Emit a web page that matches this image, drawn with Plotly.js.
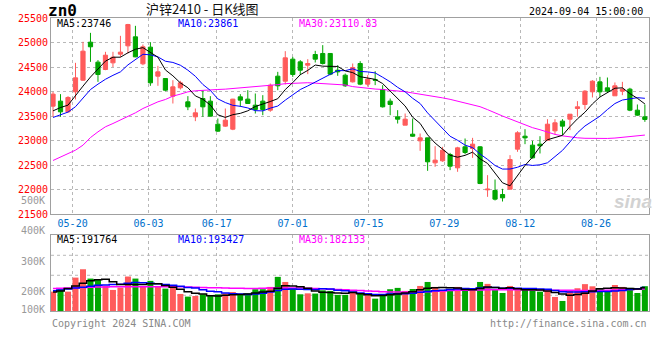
<!DOCTYPE html>
<html><head><meta charset="utf-8">
<script src="https://cdn.plot.ly/plotly-3.0.1.min.js"></script>
<style>body{margin:0;background:#fff}#chart{width:660px;height:360px}</style>
</head><body><div id="chart"></div><script>
// ---- data (沪锌2410, daily) ----
const dates = ['05-15','05-16','05-17','05-20','05-21','05-22','05-23','05-24','05-27','05-28','05-29','05-30','05-31',
'06-03','06-04','06-05','06-06','06-07','06-11','06-12','06-13','06-14','06-17','06-18','06-19','06-20','06-21','06-24','06-25','06-26','06-27','06-28',
'07-01','07-02','07-03','07-04','07-05','07-08','07-09','07-10','07-11','07-12','07-15','07-16','07-17','07-18','07-19','07-22','07-23','07-24','07-25','07-26','07-29','07-30','07-31',
'08-01','08-02','08-05','08-06','08-07','08-08','08-09','08-12','08-13','08-14','08-15','08-16','08-19','08-20','08-21','08-22','08-23','08-26','08-27','08-28','08-29','08-30',
'09-02','09-03','09-04'];
const tickLabels = ['05-20','06-03','06-17','07-01','07-15','07-29','08-12','08-26'];
const priceTicks = [21500,22000,22500,23000,23500,24000,24500,25000,25500];

const open = [23701,23803,23585,23993,24231,25007,24599,24449,24585,24762,
24932,25116,24565,24905,24313,24265,23905,24075,23789,23483,
23857,23803,23333,23293,23231,23891,23844,23721,23803,23619,
24313,24211,24660,24605,24537,24755,24776,24776,24435,24333,
24197,24571,24150,24245,24041,23803,23483,23313,23129,22993,
23054,22544,22585,22714,22442,22871,22837,22871,21993,21980,
21898,22007,22823,23088,22905,22925,23007,23197,23395,23435,
23653,23735,23993,24197,24075,23912,24007,24048,23619,23483];
const high = [23993,23946,23905,24585,25014,25197,24640,24810,24810,25136,
25380,25340,24959,25007,24524,24270,24231,24218,23905,23653,
24027,23905,23449,23653,23850,23946,24027,23959,23925,24163,
24401,24823,24707,24640,24660,24830,24946,24780,24537,24367,
24571,24619,24333,24415,24129,23857,23619,23551,23449,23143,
23054,22884,22871,22748,22871,23041,23054,22884,22293,22204,
22014,22701,23190,23231,22993,23088,23435,23435,23435,23537,
23803,24027,24231,24299,24285,24184,24197,24075,23735,23735];
const low = [23483,23483,23565,23837,24218,24605,24197,24435,24500,24707,
24776,24700,24537,24116,24116,24007,23755,24041,23619,23395,
23483,23490,23177,23279,23211,23687,23750,23551,23517,23585,
24027,24143,24299,24333,24354,24592,24551,24333,24320,24095,
24184,24129,24100,24130,23673,23517,23347,23313,23075,22789,
22381,22463,22565,22395,22361,22721,22646,22109,21850,21776,
21755,22007,22769,22925,22633,22735,22993,23122,23109,23211,
23483,23633,23878,23891,23973,23912,23925,23599,23503,23381];
const close = [23946,23585,23878,24279,24823,24912,24347,24741,24700,24803,
25367,24707,24912,24177,24401,24027,24095,24177,23687,23565,
23687,23497,23191,23415,23844,23823,23755,23633,23633,24129,
24116,24687,24347,24435,24571,24660,24571,24354,24401,24116,
24490,24150,24252,24230,23687,23735,23435,23435,23088,23054,
22565,22599,22803,22476,22850,22755,22925,22122,22007,21803,
21830,22612,23157,23054,22646,22891,23333,23361,23293,23537,
23687,24007,24211,23993,24007,24116,24048,23619,23517,23429];
const ma5 = [23605,23673,23721,23925,24110,24295,24448,24620,24700,24700,
24790,24862,24895,24790,24700,24440,24320,24175,24077,23910,
23842,23723,23525,23471,23527,23554,23606,23694,23738,23795,
23853,24040,24182,24343,24431,24540,24517,24518,24511,24420,
24386,24302,24282,24248,24162,24011,23868,23704,23476,23349,
23115,22948,22822,22699,22659,22697,22762,22626,22532,22322,
22137,22075,22282,22491,22660,22872,23016,23057,23105,23283,
23442,23577,23747,23887,23981,24067,24075,23957,23861,23746];
const ma10 = [23470,23520,23580,23690,23860,24040,24150,24250,24330,24401,
24543,24656,24759,24749,24707,24618,24593,24536,24435,24311,
24143,24022,23850,23774,23718,23698,23664,23609,23604,23661,
23703,23823,23938,24040,24113,24196,24278,24350,24427,24425,
24463,24409,24400,24379,24291,24198,24085,23993,23862,23755,
23563,23408,23263,23087,23004,22906,22855,22724,22615,22490,
22417,22418,22454,22511,22491,22504,22545,22669,22798,22971,
23157,23296,23402,23496,23632,23754,23826,23852,23874,23861];
const ma30 = [22592,22667,22735,22803,22905,23060,23177,23280,23347,23415,
23483,23565,23653,23721,23789,23837,23905,23946,23993,24014,
24027,24034,24041,24048,24061,24068,24075,24088,24100,24125,
24140,24160,24170,24175,24179,24170,24160,24150,24140,24133,
24100,24080,24065,24050,24041,24030,24015,23995,23970,23947,
23925,23900,23870,23840,23803,23770,23735,23690,23630,23557,
23500,23440,23380,23320,23262,23220,23170,23125,23095,23073,
23055,23045,23040,23040,23042,23050,23062,23078,23092,23110.83];
// volume, in thousands of lots
const vol = [160,180,160,276,345,268,257,207,174,193,
285,268,207,249,207,185,193,141,119,124,
138,130,138,146,157,138,146,180,180,199,
282,240,185,138,146,144,171,166,133,133,
160,144,130,102,124,180,191,166,182,207,
240,199,174,166,199,174,180,240,224,174,
149,207,191,180,180,160,166,116,83,166,
188,222,204,185,170,215,199,191,149,205];
const volMa5 = [157,165,185,207,229,250,258,262,242,220,
219,220,218,226,225,210,197,180,160,147,
140,127,124,130,135,137,141,148,156,164,
188,208,207,201,189,165,155,152,149,146,
152,143,135,126,128,134,140,148,160,175,
188,193,194,192,191,177,176,185,198,195,
189,192,184,176,176,174,166,153,140,131,
137,147,165,184,187,192,191,186,182,191.764];
const volMa10 = [168,174,182,190,197,205,212,214,218,222,
230,236,234,230,225,218,212,204,195,190,
175,163,160,149,143,140,137,141,146,156,
170,180,182,180,178,177,183,182,172,167,
158,149,142,137,136,140,142,142,147,155,
162,168,171,177,182,185,184,190,194,194,
188,188,188,186,185,181,179,170,159,156,
158,159,160,162,162,166,170,177,184,193.427];
const volMa30 = [185,188,191,193,195,197,198,199,200,200,
201,201,201,201,201,201,200,200,199,197,
195,193,192,190,188,187,186,186,187,190,
190,191,191,190,188,186,183,180,178,175,
172,169,166,163,160,158,157,157,157,158,
160,163,166,169,171,172,173,174,175,175,
175,175,175,175,174,174,173,172,171,171,
170,170,170,171,172,174,176,178,180,182.133];
const volLabels = ['500K','400K','300K','200K','100K'];

// ---- styling ----
const RED = '#ff5b5b', GREEN = '#00a600';
const MONO = 'DejaVu Sans Mono';
const FRAME = '#a0a0a0', GRID = '#b8b8b8';
const L = 51, T = 18, PW = 598, PH = 293; // plot box in px
const px = x => (x - L) / PW;           // px -> paper x
const py = y => (T + PH - y) / PH;      // px -> paper y

const idx = dates.map((d, i) => i);
// Sina's grid drifts slightly relative to the bars
const tickPos = tickLabels.map(t => dates.indexOf(t) * 1.0125 - 0.42);
const n = dates.length;

const traces = [
  {type:'candlestick', x: idx, open, high, low, close, xaxis:'x', yaxis:'y',
   increasing:{line:{color:RED, width:1}, fillcolor:RED},
   decreasing:{line:{color:GREEN, width:1}, fillcolor:GREEN},
   whiskerwidth:0, hoverinfo:'skip', showlegend:false},
  {type:'scatter', mode:'lines', x: idx, y: ma30, line:{color:'#ff00ff', width:1}, hoverinfo:'skip', showlegend:false},
  {type:'scatter', mode:'lines', x: idx, y: ma10, line:{color:'#0000ff', width:1}, hoverinfo:'skip', showlegend:false},
  {type:'scatter', mode:'lines', x: idx, y: ma5, line:{color:'#000000', width:1}, hoverinfo:'skip', showlegend:false},
  {type:'bar', x: idx, y: vol, xaxis:'x2', yaxis:'y2',
   marker:{color: idx.map(i => close[i] >= open[i] ? RED : GREEN), line:{width:0}},
   hoverinfo:'skip', showlegend:false},
  {type:'scatter', mode:'lines', x: idx, y: volMa30, xaxis:'x2', yaxis:'y2', line:{color:'#ff00ff', width:1.5, shape:'hvh'}, hoverinfo:'skip', showlegend:false},
  {type:'scatter', mode:'lines', x: idx, y: volMa10, xaxis:'x2', yaxis:'y2', line:{color:'#0000ff', width:1.5, shape:'hvh'}, hoverinfo:'skip', showlegend:false},
  {type:'scatter', mode:'lines', x: idx, y: volMa5, xaxis:'x2', yaxis:'y2', line:{color:'#000000', width:1.5, shape:'hvh'}, hoverinfo:'skip', showlegend:false}
];

const mainTop = 1, mainBot = py(214), volTop = py(235);
const xRange = [-0.27, 79.55];

const ann = [];
function txt(text, x, y, size, color, xanchor, extra) {
  ann.push(Object.assign({text, x, y, xref:'paper', yref:'paper', showarrow:false,
    xanchor: xanchor || 'left', yanchor:'middle',
    font:{family: MONO, size, color}}, extra || {}));
}
txt('<b>zn0</b>', px(46), py(10), 16, '#000');
txt('沪锌2410 - 日K线图', px(202), py(9), 13, '#111', 'center', {font:{family:'Noto Sans CJK SC', size:13, color:'#111'}});
txt('2024-09-04 15:00:00', px(645), py(11), 10, '#000', 'right');
txt('MA5:' + ma5[n-1], px(55), py(23), 10, '#000');
txt('MA10:' + ma10[n-1], px(176), py(23), 10, '#0000ff');
txt('MA30:' + ma30[n-1].toFixed(2), px(297), py(23), 10, '#ff00ff');
txt('MA5:' + Math.round(volMa5[n-1]*1000), px(55), py(239), 10, '#000');
txt('MA10:' + Math.round(volMa10[n-1]*1000), px(176), py(239), 10, '#0000ff');
txt('MA30:' + Math.round(volMa30[n-1]*1000), px(297), py(239), 10, '#ff00ff');
const volLabelY = [200, 231, 261, 291, 309];
volLabels.forEach((t, i) => txt(t, px(47), py(volLabelY[i]), 10, '#999', 'right'));
txt('Copyright 2024 SINA.COM', px(50), py(323), 10, '#888');
txt('http://finance.sina.com.cn', px(649), py(323), 10, '#888', 'right');
txt('<b><i>sina</i></b>', px(633), py(201), 19, '#d2d2d2', 'center', {font:{family:'Liberation Sans', size:19, color:'#d2d2d2'}});

const shapes = [0.733, 0.470, 0.207].map(f => ({type:'line', xref:'x2 domain', yref:'y2 domain',
  x0:0, x1:1, y0:f, y1:f, line:{color:GRID, width:1, dash:'dot'}, layer:'below'}));

const layout = {
  width:660, height:360, margin:{l:L, r:660-L-PW, t:T, b:360-T-PH},
  paper_bgcolor:'#fff', plot_bgcolor:'#fff', showlegend:false,
  boxgap:0.2, bargap:0.2,
  xaxis:{domain:[0,1], anchor:'y', range:xRange, rangeslider:{visible:false},
    tickmode:'array', tickvals:tickPos, ticktext:tickLabels, ticks:'',
    tickfont:{family:MONO, size:10, color:'#0070cc'},
    showgrid:true, gridcolor:GRID, griddash:'dot', gridwidth:1, zeroline:false,
    showline:true, mirror:true, linecolor:FRAME, linewidth:1, fixedrange:true},
  yaxis:{domain:[mainBot, mainTop], anchor:'x', range:[21500, 25500],
    tickmode:'array', tickvals:priceTicks, ticktext:priceTicks.map(String), ticks:'',
    tickfont:{family:MONO, size:10, color:'#ff0000'},
    showgrid:true, gridcolor:GRID, griddash:'dot', gridwidth:1, zeroline:false,
    showline:true, mirror:true, linecolor:FRAME, linewidth:1, fixedrange:true},
  xaxis2:{domain:[0,1], anchor:'y2', matches:'x', range:xRange,
    tickmode:'array', tickvals:tickPos, showticklabels:false, ticks:'',
    showgrid:true, gridcolor:GRID, griddash:'dot', gridwidth:1, zeroline:false,
    showline:true, mirror:true, linecolor:FRAME, linewidth:1, fixedrange:true},
  yaxis2:{domain:[0, volTop], anchor:'x2', range:[0, 628],
    showticklabels:false, ticks:'', showgrid:false, zeroline:false,
    showline:true, mirror:true, linecolor:FRAME, linewidth:1, fixedrange:true},
  annotations: ann, shapes
};

Plotly.newPlot('chart', traces, layout, {staticPlot:true, displayModeBar:false});
</script></body></html>
